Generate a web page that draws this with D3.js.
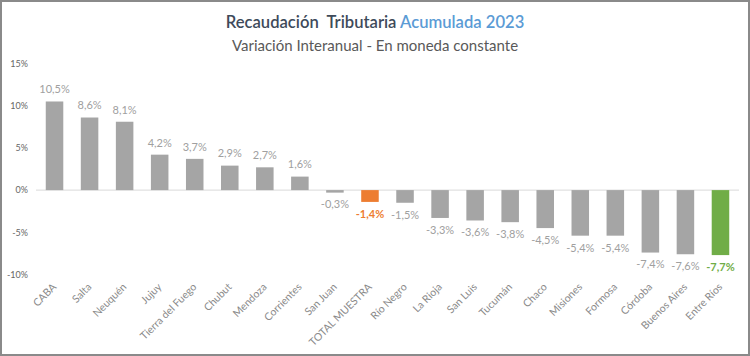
<!DOCTYPE html>
<html><head><meta charset="utf-8">
<script src="https://cdn.jsdelivr.net/npm/d3@7"></script>
<style>
html,body{margin:0;padding:0;background:#fff;}
svg{display:block;}
</style></head>
<body>
<script>
const categories = ["CABA","Salta","Neuquén","Jujuy","Tierra del Fuego","Chubut","Mendoza","Corrientes","San Juan","TOTAL MUESTRA","Río Negro","La Rioja","San Luis","Tucumán","Chaco","Misiones","Formosa","Córdoba","Buenos Aires","Entre Ríos"];
const values = [10.5,8.6,8.1,4.2,3.7,2.9,2.7,1.6,-0.3,-1.4,-1.5,-3.3,-3.6,-3.8,-4.5,-5.4,-5.4,-7.4,-7.6,-7.7];
const yTicks = [15,10,5,0,-5,-10];
const titleMain = "Recaudación  Tributaria ";
const titleAccent = "Acumulada 2023";
const subtitle = "Variación Interanual - En moneda constante";

const W = 750, H = 356;
const svg = d3.select("body").append("svg").attr("width", W).attr("height", H);

svg.append("rect").attr("x",1).attr("y",1).attr("width",W-2).attr("height",H-2)
  .attr("fill","#fff").attr("stroke","#8a8a8a").attr("stroke-width",2);

const x = d3.scaleBand().domain(categories).range([37, 738]).paddingInner(0.5).paddingOuter(0.25);
const y = d3.scaleLinear().domain([-10, 15]).range([274.5, 63.5]);

const locale = d3.formatLocale({decimal: ",", thousands: ".", grouping: [3], currency: ["$", ""], minus: "-"});
const fmt = v => locale.format(".1f")(v) + "%";
const colorOf = c => c === "TOTAL MUESTRA" ? "#ED7D31" : (c === "Entre Ríos" ? "#70AD47" : "#A5A5A5");
const labelColorOf = c => c === "TOTAL MUESTRA" ? "#ED7D31" : (c === "Entre Ríos" ? "#70AD47" : "#A0A0A0");

// title
const t = svg.append("text").attr("x", W/2).attr("y", 28).attr("text-anchor","middle")
  .attr("font-family","Lato, 'Open Sans', sans-serif").attr("font-size",16.6).attr("font-weight",600);
t.append("tspan").attr("fill","#3E4A5A").attr("xml:space","preserve").text(titleMain);
t.append("tspan").attr("fill","#5B9BD5").text(titleAccent);
svg.append("text").attr("x", W/2).attr("y", 51).attr("text-anchor","middle")
  .attr("font-family","Lato, 'Open Sans', sans-serif").attr("font-size",15).attr("fill","#595959")
  .text(subtitle);

// y axis labels
const yAxis = d3.axisLeft(y).tickValues(yTicks).tickSize(0).tickFormat(d => locale.format("d")(d) + "%");
const ga = svg.append("g").attr("transform","translate(28,0)").call(yAxis);
ga.select(".domain").remove();
ga.selectAll("text").attr("font-family","Lato, 'Open Sans', sans-serif").attr("font-size",9).attr("fill","#666").attr("dx",0).attr("x",0);

// zero line
svg.append("line").attr("x1",36).attr("x2",739).attr("y1",y(0)).attr("y2",y(0))
  .attr("stroke","#D9D9D9").attr("stroke-width",1);

// bars
svg.selectAll("rect.bar").data(categories).join("rect").attr("class","bar")
  .attr("x", c => x(c))
  .attr("width", x.bandwidth())
  .attr("y", (c,i) => y(Math.max(0, values[i])))
  .attr("height", (c,i) => Math.abs(y(values[i]) - y(0)))
  .attr("fill", c => colorOf(c));

// value labels
svg.selectAll("text.val").data(categories).join("text").attr("class","val")
  .attr("x", c => x(c) + x.bandwidth()/2)
  .attr("y", (c,i) => values[i] >= 0 ? y(values[i]) - 12 : y(values[i]) + 12)
  .attr("dy","0.35em")
  .attr("text-anchor","middle")
  .attr("font-family","Lato, 'Open Sans', sans-serif").attr("font-size",11)
  .attr("font-weight", c => (c === "TOTAL MUESTRA" || c === "Entre Ríos") ? 700 : 400)
  .attr("fill", c => labelColorOf(c))
  .text((c,i) => fmt(values[i]));

// x labels
const xAxis = d3.axisBottom(x).tickSize(0);
const gx = svg.append("g").attr("transform","translate(0,285)").call(xAxis);
gx.select(".domain").remove();
gx.selectAll("text")
  .attr("font-family","Lato, 'Open Sans', sans-serif").attr("font-size",10.5).attr("fill","#8a8a8a")
  .attr("text-anchor","end").attr("y",0).attr("dy","0.35em").attr("x",0)
  .attr("transform","rotate(-45)");
</script>
</body></html>
